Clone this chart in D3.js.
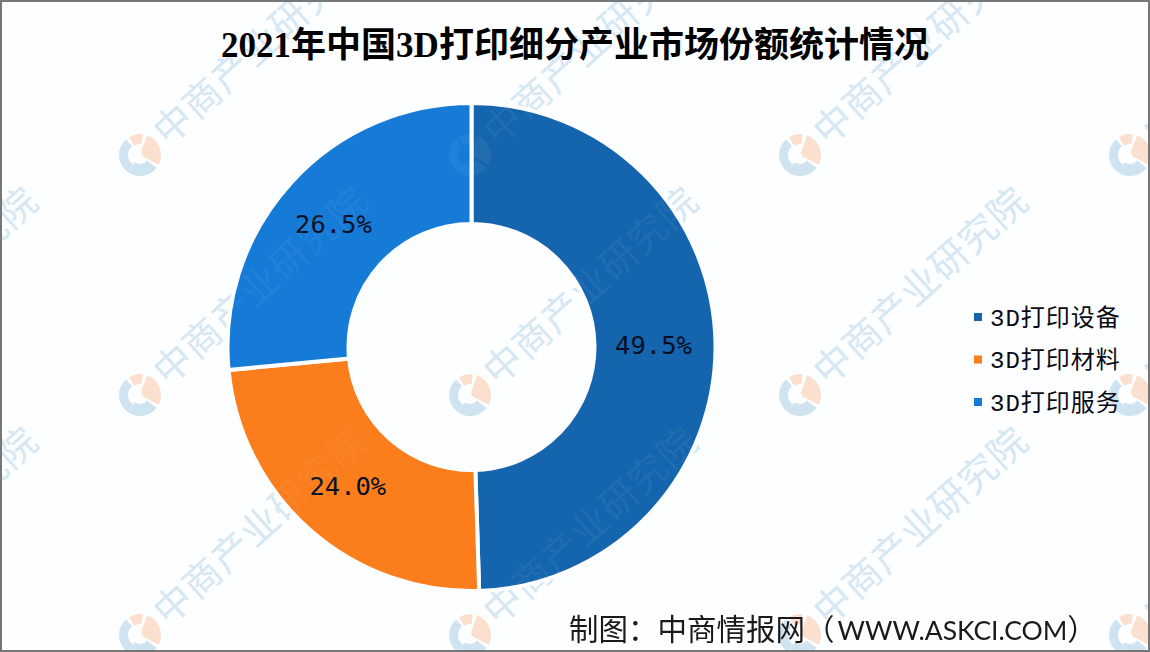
<!DOCTYPE html>
<html>
<head>
<meta charset="utf-8">
<script src="https://cdn.jsdelivr.net/npm/d3@7"></script>
<style>
html, body { margin: 0; padding: 0; background: #fff; overflow: hidden; }
svg { display: block; }
</style>
</head>
<body>
<svg id="chart" width="1150" height="652"></svg>
<script>
// data
const categories = ['3D打印设备', '3D打印材料', '3D打印服务'];
const shares = [49.5, 24.0, 26.5];
const colors = ['#1565ae', '#fb7d1b', '#167bd6'];
const titleText = '2021年中国3D打印细分产业市场份额统计情况';
const sourceLabel = '制图：中商情报网（';
const sourceSite = 'WWW.ASKCI.COM';
const sourceEnd = '）';
const watermarkText = '中商产业研究院';

const width = 1150, height = 652;
const cx = 471.5, cy = 347, outerR = 244, innerR = 123;

const svg = d3.select('#chart');
svg.append('rect').attr('width', width).attr('height', height).attr('fill', '#fdfeff');

// watermark grid
const wmXs = [-190, 140, 470, 800, 1130];
const wmYs = [-85, 155, 395, 635];
const logoArc = d3.arc();
const rad = d => d * Math.PI / 180;

function drawWatermark(parent, opacity) {
    const g = parent.append('g').attr('opacity', opacity);
    wmYs.forEach(y => wmXs.forEach(x => {
        const w = g.append('g').attr('transform', `translate(${x},${y})`);
        // logo
        w.append('path').attr('fill', '#cfe3f1')
            .attr('d', logoArc({ innerRadius: 9, outerRadius: 21, startAngle: rad(128), endAngle: rad(215) }));
        w.append('path').attr('fill', '#cfe3f1')
            .attr('d', logoArc({ innerRadius: 12, outerRadius: 21, startAngle: rad(215), endAngle: rad(318) }));
        w.append('path').attr('fill', '#fbe0d0')
            .attr('d', logoArc({ innerRadius: 11, outerRadius: 21, startAngle: rad(-32), endAngle: rad(8) }));
        w.append('path').attr('fill', '#fbe0d0')
            .attr('d', logoArc({ innerRadius: 2, outerRadius: 21, startAngle: rad(20), endAngle: rad(118) }));
        // text
        w.append('text')
            .attr('transform', 'translate(28,-8) rotate(-42)')
            .attr('font-family', '"Noto Sans CJK SC"')
            .attr('font-size', 38)
            .attr('letter-spacing', 1)
            .attr('fill', '#d6e7f4')
            .text(watermarkText);
    }));
}

drawWatermark(svg, 1);

// donut
const pie = d3.pie().sort(null).value(d => d);
const arc = d3.arc().innerRadius(innerR).outerRadius(outerR);
const chart = svg.append('g').attr('transform', `translate(${cx},${cy})`);

chart.selectAll('path')
    .data(pie(shares))
    .enter().append('path')
    .attr('d', arc)
    .attr('fill', (d, i) => colors[i])
    .attr('stroke', '#fdfeff')
    .attr('stroke-width', 4);

// watermark faintly over the slices, clipped to the ring
svg.append('clipPath').attr('id', 'ring')
    .append('path')
    .attr('transform', `translate(${cx},${cy})`)
    .attr('d', arc({ startAngle: 0, endAngle: 2 * Math.PI }));
drawWatermark(svg.append('g').attr('clip-path', 'url(#ring)'), 0.06);

// value labels
const labelArc = d3.arc().innerRadius(184).outerRadius(184);
chart.selectAll('text')
    .data(pie(shares))
    .enter().append('text')
    .attr('transform', d => `translate(${labelArc.centroid(d)})`)
    .attr('dx', -2)
    .attr('dy', '0.4em')
    .attr('text-anchor', 'middle')
    .attr('font-family', '"DejaVu Sans Mono"')
    .attr('font-size', 25.5)
    .attr('fill', '#0a0f24')
    .text(d => d.value.toFixed(1) + '%');

// title
svg.append('text')
    .attr('x', 575).attr('y', 57)
    .attr('text-anchor', 'middle')
    .attr('font-family', '"Liberation Serif", "Noto Sans CJK SC"')
    .attr('font-weight', 'bold')
    .attr('font-size', 35)
    .attr('fill', '#000')
    .text(titleText);

// legend
const legendY = d3.scalePoint().domain(categories).range([317, 402]);
const legend = svg.append('g').selectAll('g')
    .data(categories)
    .enter().append('g')
    .attr('transform', d => `translate(974,${legendY(d)})`);

legend.append('rect')
    .attr('y', -4).attr('width', 8).attr('height', 8)
    .attr('fill', (d, i) => colors[i]);

legend.append('text')
    .attr('x', 16).attr('dy', '0.36em')
    .attr('font-family', '"Liberation Mono", "Noto Sans CJK SC"')
    .attr('font-size', 24)
    .attr('letter-spacing', 1)
    .attr('fill', '#0a0a14')
    .text(d => d);

// source
const source = svg.append('text')
    .attr('x', 569).attr('y', 640)
    .attr('font-family', '"Noto Sans CJK SC"')
    .attr('font-size', 29.5)
    .attr('fill', '#1a1a1a');
source.append('tspan').text(sourceLabel);
source.append('tspan')
    .attr('dx', 3)
    .attr('font-family', 'Lato, "Noto Sans CJK SC"')
    .attr('font-size', 26.5)
    .text(sourceSite);
source.append('tspan').text(sourceEnd);

// frame
svg.append('rect')
    .attr('x', 1).attr('y', 1)
    .attr('width', width - 2).attr('height', height - 2)
    .attr('fill', 'none')
    .attr('stroke', '#777')
    .attr('stroke-width', 2);
</script>
</body>
</html>
